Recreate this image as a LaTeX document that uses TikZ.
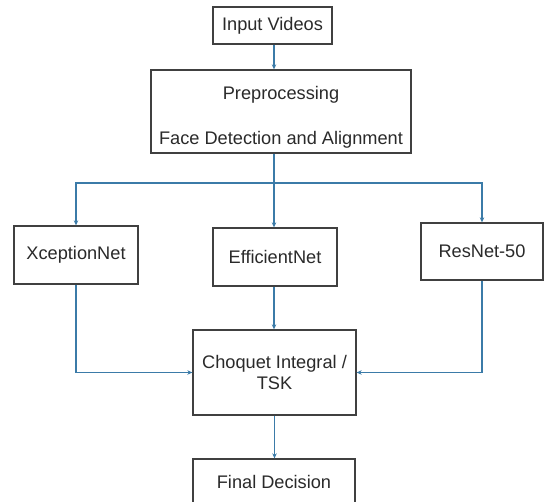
\documentclass[tikz,border=0pt]{standalone}
\usepackage{fontspec}
\setmainfont{Liberation Sans}
\usetikzlibrary{arrows.meta}
\definecolor{linec}{HTML}{3B7BA8}
\definecolor{boxc}{HTML}{404040}
\definecolor{txtc}{HTML}{2A2A2A}
\tikzset{
  txt/.style={inner sep=0pt, align=center, text=txtc, font=\fontsize{18.2}{21.5}\selectfont},
  box/.style={txt, draw=boxc, line width=1.3pt, fill=white},
  conn/.style={draw=linec, line width=1.2pt},
  arr/.style={conn, -{Stealth[length=5pt,width=4.5pt]}}
}
\begin{document}
\begin{tikzpicture}[x=1pt,y=-1pt]
\clip (0,0) rectangle (544,502);
\fill[white] (0,0) rectangle (544,502);
\node[box, minimum width=119, minimum height=37] (in) at (272.5,25.5) {Input Videos};
\node[box, minimum width=260, minimum height=83,
  label={[txt, yshift=-6pt]center:{Preprocessing\\[23pt]Face Detection and Alignment}}] (pre) at (281,111.5) {};
\node[box, minimum width=124, minimum height=58] (xc) at (76,255) {XceptionNet};
\node[box, minimum width=124, minimum height=58] (ef) at (275,257) {EfficientNet};
\node[box, minimum width=122, minimum height=57] (rn) at (482,251.5) {ResNet-50};
\node[box, minimum width=163, minimum height=85] (ch) at (274.5,372.5) {Choquet Integral /\\TSK};
\node[box, minimum width=162, minimum height=46] (fd) at (274,482) {Final Decision};
\coordinate (j) at (274,183);
\draw[arr] (j |- in.south) -- (j |- pre.north);
\draw[conn] (j |- pre.south) -- (j);
\draw[arr] (j) -| (xc.north);
\draw[arr] (j) -- (j |- ef.north);
\draw[arr] (j) -| (rn.north);
\draw[arr] (j |- ef.south) -- (j |- ch.north);
\draw[arr] (xc.south) |- (ch.west);
\draw[arr] (rn.south) |- (ch.east);
\draw[arr] (ch.south) -- (ch.south |- fd.north);
\end{tikzpicture}
\end{document}
